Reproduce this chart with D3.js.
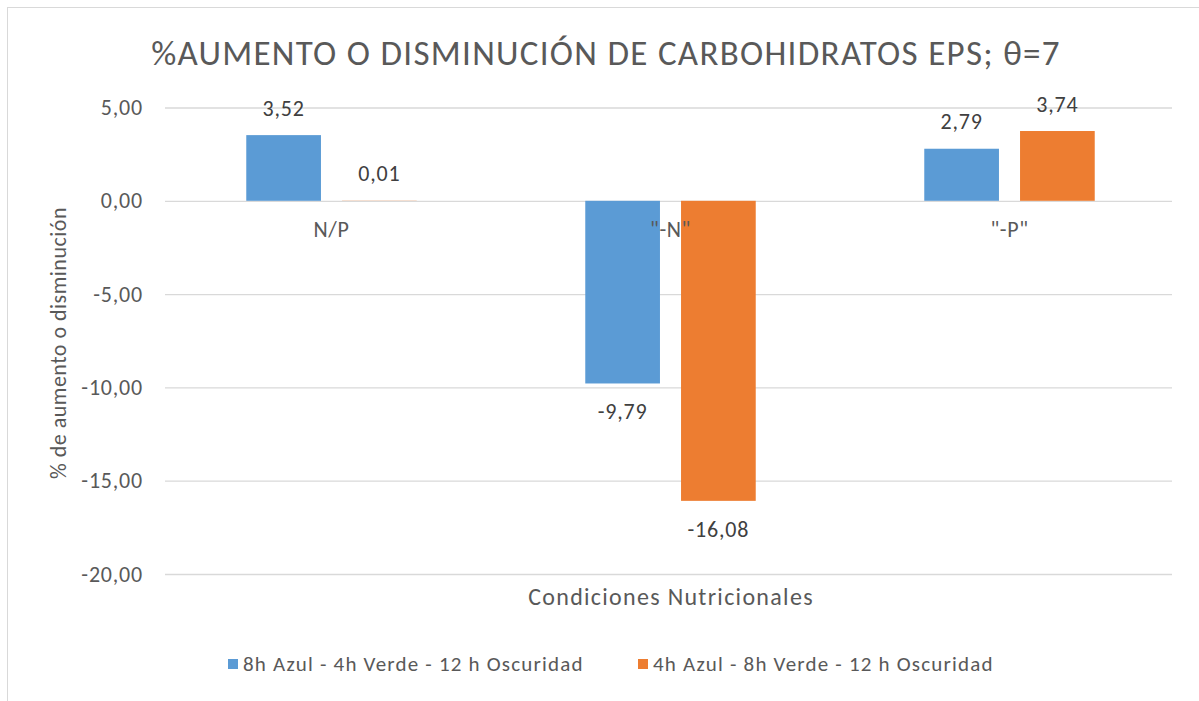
<!DOCTYPE html>
<html>
<head>
<meta charset="utf-8">
<script src="https://cdn.jsdelivr.net/npm/d3@7"></script>
<style>
  body { margin: 0; background: #fff; }
  svg { display: block; font-family: Carlito, Calibri, Lato, sans-serif; }
</style>
</head>
<body>
<div id="chart"></div>
<script>
// categories, series and values
const categories = ["N/P", "\"-N\"", "\"-P\""];
const seriesNames = ["8h Azul - 4h Verde - 12 h Oscuridad", "4h Azul - 8h Verde - 12 h Oscuridad"];
const azulValues = [3.52, -9.79, 2.79];
const verdeValues = [0.01, -16.08, 3.74];
const yTicks = [5, 0, -5, -10, -15, -20];
const colors = ["#5b9bd5", "#ed7d31"];

const width = 1199;
const height = 701;
const marginLeft = 162;
const marginRight = 20;
const yTop = 107.5;
const yBottom = 574;

const data = categories.map((c, i) => ({
  category: c,
  values: [azulValues[i], verdeValues[i]]
}));

// spanish style numbers: comma decimal, plain hyphen for minus
const locale = d3.formatLocale({decimal: ",", thousands: ".", grouping: [3], currency: ["", "€"], minus: "-"});
const fmt = locale.format(".2f");

const svg = d3.select("#chart").append("svg")
    .attr("width", width)
    .attr("height", height)
    .attr("viewBox", [0, 0, width, height]);

// chart border (runs off the right and bottom of the picture)
svg.append("rect")
    .attr("x", 7.5)
    .attr("y", 7.5)
    .attr("width", width + 10)
    .attr("height", height + 10)
    .attr("fill", "#fff")
    .attr("stroke", "#d9d9d9");

const x0 = d3.scaleBand()
    .domain(categories)
    .range([marginLeft, width - marginRight]);

const x1 = d3.scaleBand()
    .domain([0, 1])
    .range([0, x0.bandwidth()])
    .paddingInner(0.22)
    .paddingOuter(0.88);

const y = d3.scaleLinear()
    .domain([5, -20])
    .range([yTop, yBottom]);

// gridlines + tick labels
svg.append("g")
    .attr("transform", `translate(${marginLeft + 3},0)`)
    .call(d3.axisLeft(y).tickValues(yTicks).tickFormat(fmt).tickSize(0).tickPadding(22))
    .call(g => g.select(".domain").remove())
    .call(g => g.selectAll(".tick line").clone()
        .attr("x2", width - marginRight - marginLeft - 10)
        .attr("stroke", "#d9d9d9")
        .attr("stroke-width", 1.3))
    .call(g => g.selectAll(".tick text")
        .attr("fill", "#595959")
        .attr("font-family", "Carlito, Calibri, Lato, sans-serif")
        .attr("font-size", 22)
        .attr("letter-spacing", 0.8));

// bars
const groups = svg.append("g")
    .selectAll("g")
    .data(data)
    .join("g")
      .attr("transform", d => `translate(${x0(d.category)},0)`);

groups.selectAll("rect")
    .data(d => d.values.map((v, i) => ({v, i})))
    .join("rect")
      .attr("x", d => x1(d.i))
      .attr("y", d => y(Math.max(0, d.v)))
      .attr("width", x1.bandwidth())
      .attr("height", d => Math.abs(y(d.v) - y(0)))
      .attr("fill", d => colors[d.i]);

// data labels
groups.selectAll("text.value")
    .data(d => d.values.map((v, i) => ({v, i})))
    .join("text")
      .attr("class", "value")
      .attr("x", d => x1(d.i) + x1.bandwidth() / 2)
      .attr("y", d => d.v >= 0 ? y(d.v) - 27 : y(d.v) + 28)
      .attr("dy", "0.35em")
      .attr("text-anchor", "middle")
      .attr("fill", "#404040")
      .attr("font-size", 22)
      .attr("letter-spacing", 0.8)
      .text(d => fmt(d.v));

// category labels, just under the zero line
svg.append("g")
    .selectAll("text")
    .data(categories)
    .join("text")
      .attr("x", d => x0(d) + x0.bandwidth() / 2)
      .attr("y", y(0) + 28)
      .attr("dy", "0.35em")
      .attr("text-anchor", "middle")
      .attr("fill", "#595959")
      .attr("font-size", 22)
      .attr("letter-spacing", 0.6)
      .text(d => d);

// title
svg.append("text")
    .attr("x", 606)
    .attr("y", 65)
    .attr("text-anchor", "middle")
    .attr("fill", "#595959")
    .attr("font-size", 35)
    .attr("letter-spacing", 1.3)
    .text("%AUMENTO O DISMINUCIÓN DE CARBOHIDRATOS EPS; θ=7");

// axis titles
svg.append("text")
    .attr("x", 671)
    .attr("y", 597)
    .attr("dy", "0.35em")
    .attr("text-anchor", "middle")
    .attr("fill", "#595959")
    .attr("font-size", 24)
    .attr("letter-spacing", 1.3)
    .text("Condiciones Nutricionales");

svg.append("text")
    .attr("transform", "translate(58,343) rotate(-90)")
    .attr("dy", "0.35em")
    .attr("text-anchor", "middle")
    .attr("fill", "#595959")
    .attr("font-size", 22)
    .attr("letter-spacing", 0.5)
    .text("% de aumento o disminución");

// legend
const legendX = [228, 638];
const legend = svg.append("g")
    .selectAll("g")
    .data(seriesNames)
    .join("g")
      .attr("transform", (d, i) => `translate(${legendX[i]},664)`);

legend.append("rect")
    .attr("y", -5)
    .attr("width", 10)
    .attr("height", 10)
    .attr("fill", (d, i) => colors[i]);

legend.append("text")
    .attr("x", 15)
    .attr("dy", "0.35em")
    .attr("fill", "#595959")
    .attr("font-size", 21)
    .attr("letter-spacing", 1.2)
    .text(d => d);
</script>
</body>
</html>
